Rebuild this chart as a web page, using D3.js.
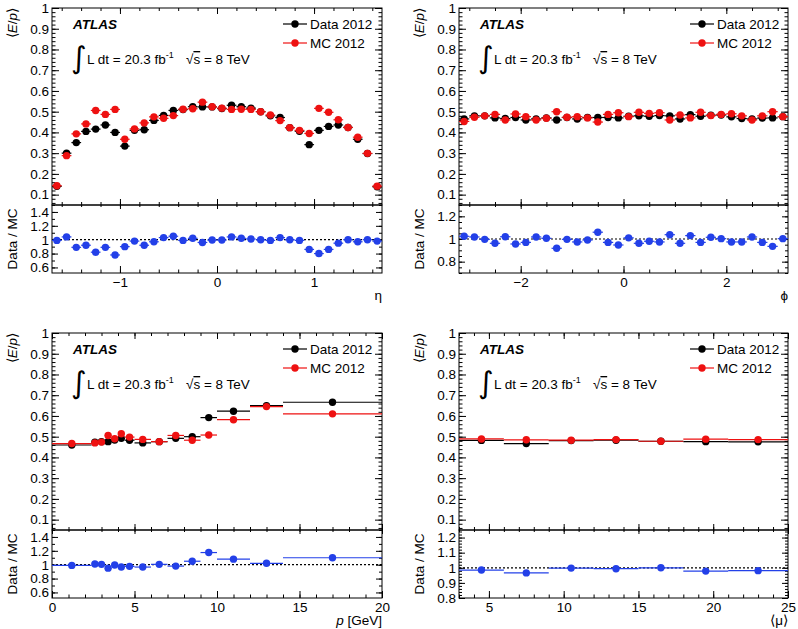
<!DOCTYPE html>
<html>
<head>
<meta charset="utf-8">
<script src="https://cdn.jsdelivr.net/npm/d3@7"></script>
<style>
  body { margin: 0; background: #fff; }
  text { font-family: "Liberation Sans", Arial, sans-serif; }
</style>
</head>
<body>
<div id="chart"></div>
<script>
// ---- eta panel (bins of 0.1) ----
const etaCenters = [-1.65,-1.55,-1.45,-1.35,-1.25,-1.15,-1.05,-0.95,-0.85,-0.75,-0.65,-0.55,-0.45,-0.35,-0.25,-0.15,-0.05,
                    0.05,0.15,0.25,0.35,0.45,0.55,0.65,0.75,0.85,0.95,1.05,1.15,1.25,1.35,1.45,1.55,1.65];
const etaHalfWidth = 0.05;
const etaData  = [0.140,0.300,0.351,0.405,0.416,0.436,0.400,0.334,0.410,0.413,0.458,0.482,0.506,0.510,0.524,0.523,0.523,
                  0.515,0.531,0.524,0.517,0.500,0.480,0.472,0.423,0.406,0.341,0.410,0.429,0.436,0.424,0.367,0.298,0.138];
const etaMC    = [0.143,0.288,0.393,0.441,0.506,0.487,0.511,0.367,0.417,0.446,0.475,0.468,0.481,0.512,0.514,0.546,0.524,
                  0.517,0.511,0.512,0.511,0.500,0.484,0.457,0.423,0.410,0.395,0.516,0.497,0.461,0.424,0.377,0.299,0.141];
const etaRatio = [0.99,1.04,0.89,0.92,0.82,0.89,0.78,0.90,0.98,0.92,0.97,1.03,1.05,0.99,1.02,0.96,0.995,
                  0.995,1.04,1.02,1.01,1.00,0.99,1.03,1.00,0.99,0.86,0.80,0.86,0.95,1.00,0.97,1.00,0.98];

// ---- phi panel (bins of 0.2) ----
const phiCenters = [-3.1,-2.9,-2.7,-2.5,-2.3,-2.1,-1.9,-1.7,-1.5,-1.3,-1.1,-0.9,-0.7,-0.5,-0.3,-0.1,
                    0.1,0.3,0.5,0.7,0.9,1.1,1.3,1.5,1.7,1.9,2.1,2.3,2.5,2.7,2.9,3.1];
const phiHalfWidth = 0.1;
const phiData  = [0.465,0.480,0.480,0.470,0.467,0.472,0.460,0.465,0.470,0.460,0.472,0.465,0.472,0.472,0.472,0.470,
                  0.478,0.480,0.478,0.481,0.480,0.465,0.486,0.478,0.483,0.484,0.475,0.467,0.465,0.469,0.470,0.476];
const phiMC    = [0.453,0.473,0.480,0.487,0.460,0.489,0.476,0.460,0.468,0.500,0.473,0.476,0.470,0.450,0.487,0.495,
                  0.476,0.497,0.492,0.495,0.460,0.484,0.470,0.497,0.481,0.487,0.490,0.480,0.460,0.480,0.500,0.476];
const phiRatio = [1.024,1.018,0.997,0.962,1.020,0.956,0.970,1.018,1.006,0.918,0.997,0.974,0.991,1.060,0.970,0.947,
                  1.010,0.962,0.980,0.974,1.038,0.962,1.030,0.970,1.015,1.003,0.974,0.974,1.018,0.970,0.935,1.003];

// ---- momentum panel ----
const pCenters = [1.2,2.6,3.0,3.4,3.8,4.2,4.7,5.5,6.5,7.5,8.5,9.5,11,13,17];
const pLow     = [0,2.4,2.8,3.2,3.6,4.0,4.4,5,6,7,8,9,10,12,14];
const pHigh    = [2.4,2.8,3.2,3.6,4.0,4.4,5,6,7,8,9,10,12,14,20];
const pData    = [0.460,0.474,0.476,0.476,0.484,0.492,0.483,0.470,0.476,0.492,0.500,0.592,0.623,0.650,0.666];
const pMC      = [0.467,0.470,0.474,0.506,0.490,0.514,0.498,0.487,0.476,0.506,0.483,0.508,0.582,0.645,0.610];
const pRatio   = [0.99,1.01,1.005,0.95,0.995,0.966,0.976,0.966,1.005,0.98,1.05,1.175,1.08,1.02,1.10];

// ---- pile-up panel ----
const muCenters = [4.5,7.5,10.5,13.5,16.5,19.5,23];
const muLow     = [3,6,9,12,15,18,21];
const muHigh    = [6,9,12,15,18,21,25];
const muData    = [0.482,0.467,0.481,0.483,0.478,0.476,0.475];
const muMC      = [0.489,0.485,0.483,0.486,0.478,0.488,0.486];
const muRatio   = [0.985,0.966,0.998,0.994,1.000,0.978,0.981];

// ---- tick labels ----
const epTicks     = [0.1,0.2,0.3,0.4,0.5,0.6,0.7,0.8,0.9,1];
const etaTicks    = [-1,0,1];
const phiTicks    = [-2,0,2];
const pTicks      = [0,5,10,15,20];
const muTicks     = [5,10,15,20,25];
const ratioTicks  = [0.6,0.8,1,1.2,1.4];
const phiRTicks   = [0.8,1,1.2];
const muRTicks    = [0.8,0.9,1,1.1,1.2];

const dataColor = "#000000", mcColor = "#ee1111", ratioColor = "#2340e8";
const fs = "13.5px";
const fmt = d3.format("~g");

const svg = d3.select("#chart").append("svg")
  .attr("width", 798).attr("height", 629)
  .style("background", "#fff");

function styleAxis(g, labels) {
  g.select(".domain").remove();
  g.selectAll("line").attr("stroke", "#000").attr("stroke-width", 1);
  g.attr("font-size", null).attr("font-family", null);
  g.selectAll("text").attr("fill", "#000").style("font-size", fs);
  if (!labels) g.selectAll("text").remove();
}

function axisPair(g, axisFn, scale, major, minor, len, labels, pad) {
  g.append("g").call(axisFn(scale).tickValues(minor).tickSize(-len / 2).tickFormat(""))
    .call(s => styleAxis(s, false));
  g.append("g").call(axisFn(scale).tickValues(major).tickSize(-len).tickPadding(pad || 3).tickFormat(fmt))
    .call(s => styleAxis(s, labels));
}

function minorRange(dom, step) {
  return d3.range(Math.ceil(dom[0] / step - 1e-6), Math.floor(dom[1] / step + 1e-6) + 1).map(i => +(i * step).toFixed(4));
}

function drawPanel(c) {
  const x = d3.scaleLinear().domain(c.xDomain).range([c.left, c.right]);
  const y = d3.scaleLinear().domain([0.05, 1]).range([c.mid, c.top]);
  const yr = d3.scaleLinear().domain(c.rDomain).range([c.bottom, c.mid]);
  const g = svg.append("g");

  const xMinor = minorRange(c.xDomain, c.xMinorStep);
  const yMinor = minorRange([0.05, 1], 0.02);
  const rMinor = minorRange(c.rDomain, c.rMinorStep);

  // upper pad axes
  axisPair(g.append("g").attr("transform", `translate(${c.left},0)`), d3.axisLeft, y, epTicks, yMinor, 7, true);
  axisPair(g.append("g").attr("transform", `translate(${c.right},0)`), d3.axisRight, y, epTicks, yMinor, 7, false);
  axisPair(g.append("g").attr("transform", `translate(0,${c.mid})`), d3.axisBottom, x, c.xTicks, xMinor, 6, false);
  axisPair(g.append("g").attr("transform", `translate(0,${c.top})`), d3.axisTop, x, c.xTicks, xMinor, 6, false);
  // ratio pad axes
  axisPair(g.append("g").attr("transform", `translate(${c.left},0)`), d3.axisLeft, yr, c.rTicks, rMinor, 6, true);
  axisPair(g.append("g").attr("transform", `translate(${c.right},0)`), d3.axisRight, yr, c.rTicks, rMinor, 6, false);
  axisPair(g.append("g").attr("transform", `translate(0,${c.bottom})`), d3.axisBottom, x, c.xTicks, xMinor, 7, true, 4);
  axisPair(g.append("g").attr("transform", `translate(0,${c.mid})`), d3.axisTop, x, c.xTicks, xMinor, 4, false);

  // frames
  g.append("rect").attr("x", c.left).attr("y", c.top).attr("width", c.right - c.left).attr("height", c.mid - c.top)
    .attr("fill", "none").attr("stroke", "#000");
  g.append("rect").attr("x", c.left).attr("y", c.mid).attr("width", c.right - c.left).attr("height", c.bottom - c.mid)
    .attr("fill", "none").attr("stroke", "#000");

  // ratio = 1 line
  g.append("line").attr("x1", c.left).attr("x2", c.right).attr("y1", yr(1)).attr("y2", yr(1))
    .attr("stroke", "#000").attr("stroke-width", 1.2).attr("stroke-dasharray", "2,2");

  const pts = c.centers.map((cx, i) => ({ cx, lo: c.lo[i], hi: c.hi[i], d: c.data[i], m: c.mc[i], r: c.ratio[i] }));

  function series(scale, key, color) {
    const s = g.append("g");
    s.selectAll("line").data(pts).join("line")
      .attr("x1", d => x(d.lo)).attr("x2", d => x(d.hi))
      .attr("y1", d => scale(d[key])).attr("y2", d => scale(d[key]))
      .attr("stroke", color).attr("stroke-width", 1.2);
    s.selectAll("circle").data(pts).join("circle")
      .attr("cx", d => x(d.cx)).attr("cy", d => scale(d[key])).attr("r", 3.7)
      .attr("fill", color);
  }
  series(y, "d", dataColor);
  series(y, "m", mcColor);
  series(yr, "r", ratioColor);

  // ATLAS label
  g.append("text").attr("x", c.left + 21).attr("y", c.top + 21)
    .style("font-size", fs).style("font-weight", "bold").style("font-style", "italic").text("ATLAS");
  g.append("text").attr("x", c.left + 19).attr("y", c.top + 60)
    .style("font-size", "30px").style("font-family", "DejaVu Sans").text("\u222B");
  const lt = g.append("text").attr("x", c.left + 35).attr("y", c.top + 56).style("font-size", fs);
  lt.append("tspan").text("L dt = 20.3 fb");
  lt.append("tspan").attr("dy", -6).style("font-size", "9px").text("-1");
  const st = g.append("text").attr("x", c.left + 134).attr("y", c.top + 56).style("font-size", fs);
  st.append("tspan").text("\u221A");
  st.append("tspan").style("text-decoration", "overline").text("s");
  st.append("tspan").text(" = 8 TeV");

  // legend
  [["Data 2012", dataColor, 16], ["MC 2012", mcColor, 35]].forEach(([lab, col, dy]) => {
    g.append("line").attr("x1", c.left + 231).attr("x2", c.left + 255)
      .attr("y1", c.top + dy).attr("y2", c.top + dy).attr("stroke", col).attr("stroke-width", 1.2);
    g.append("circle").attr("cx", c.left + 243).attr("cy", c.top + dy).attr("r", 3.7).attr("fill", col);
    g.append("text").attr("x", c.left + 258).attr("y", c.top + dy + 4.5).style("font-size", fs).text(lab);
  });

  // axis titles
  const yt = g.append("text").attr("transform", `translate(${c.left - 35},${c.top}) rotate(-90)`)
    .attr("text-anchor", "end").style("font-size", fs);
  yt.append("tspan").text("\u27E8");
  yt.append("tspan").style("font-style", "italic").text("E");
  yt.append("tspan").text("/");
  yt.append("tspan").style("font-style", "italic").text("p");
  yt.append("tspan").text("\u27E9");

  g.append("text").attr("transform", `translate(${c.left - 35},${(c.mid + c.bottom) / 2}) rotate(-90)`)
    .attr("text-anchor", "middle").style("font-size", fs).text("Data / MC");

  const xt = g.append("text").attr("x", c.right).attr("y", c.bottom + 27)
    .attr("text-anchor", "end").style("font-size", fs);
  c.xTitle.forEach(([t, it]) => xt.append("tspan").style("font-style", it ? "italic" : "normal").text(t));
}

drawPanel({
  left: 52, right: 382, top: 8, mid: 205, bottom: 273,
  xDomain: [-1.7, 1.7], xTicks: etaTicks, xMinorStep: 0.2,
  rDomain: [0.52, 1.5], rTicks: ratioTicks, rMinorStep: 0.1,
  centers: etaCenters, lo: etaCenters.map(v => v - etaHalfWidth), hi: etaCenters.map(v => v + etaHalfWidth),
  data: etaData, mc: etaMC, ratio: etaRatio,
  xTitle: [["\u03B7", false]]
});

drawPanel({
  left: 459, right: 788, top: 8, mid: 205, bottom: 273,
  xDomain: [-3.2, 3.2], xTicks: phiTicks, xMinorStep: 0.5,
  rDomain: [0.7, 1.3], rTicks: phiRTicks, rMinorStep: 0.05,
  centers: phiCenters, lo: phiCenters.map(v => v - phiHalfWidth), hi: phiCenters.map(v => v + phiHalfWidth),
  data: phiData, mc: phiMC, ratio: phiRatio,
  xTitle: [["\u03D5", false]]
});

drawPanel({
  left: 52, right: 382, top: 333, mid: 530, bottom: 598,
  xDomain: [0, 20], xTicks: pTicks, xMinorStep: 1,
  rDomain: [0.52, 1.5], rTicks: ratioTicks, rMinorStep: 0.1,
  centers: pCenters, lo: pLow, hi: pHigh,
  data: pData, mc: pMC, ratio: pRatio,
  xTitle: [["p", true], [" [GeV]", false]]
});

drawPanel({
  left: 459, right: 788, top: 333, mid: 530, bottom: 598,
  xDomain: [3, 25], xTicks: muTicks, xMinorStep: 1,
  rDomain: [0.8, 1.25], rTicks: muRTicks, rMinorStep: 0.02,
  centers: muCenters, lo: muLow, hi: muHigh,
  data: muData, mc: muMC, ratio: muRatio,
  xTitle: [["\u27E8\u03BC\u27E9", false]]
});
</script>
</body>
</html>
